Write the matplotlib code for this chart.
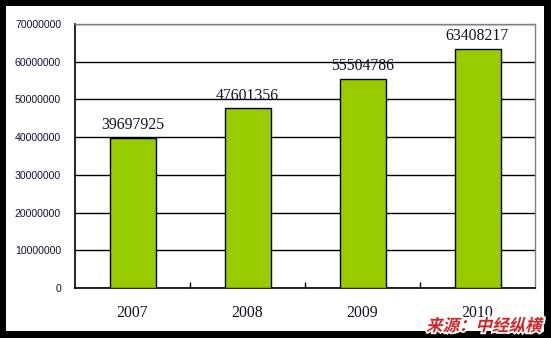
import numpy as np
import matplotlib
matplotlib.use("Agg")
import matplotlib.pyplot as plt
from matplotlib.patches import Rectangle, PathPatch
from matplotlib.textpath import TextPath
from matplotlib.font_manager import FontProperties
from matplotlib.transforms import Affine2D, IdentityTransform

years = ["2007", "2008", "2009", "2010"]
values = [39697925, 47601356, 55504786, 63408217]
yticks = [0, 10000000, 20000000, 30000000, 40000000, 50000000, 60000000, 70000000]
source = "来源：中经纵横"

W, H = 551, 338
fig = plt.figure(figsize=(W / 100, H / 100), dpi=100, facecolor="black")

# white page inside the black frame
fig.patches.append(Rectangle((6 / W, 7 / H), (544 - 6) / W, (331 - 6) / H,
                             transform=fig.transFigure, facecolor="white",
                             edgecolor="none", zorder=-1))

ax = fig.add_axes([75 / W, 1 - 288 / H, (535 - 75) / W, (288 - 24) / H])
ax.set_facecolor("white")

x = np.arange(len(years))
ax.bar(x, values, width=0.40, color="#99CC00", edgecolor="black", linewidth=1, zorder=3)

for xi, v in zip(x, values):
    ax.text(xi, v + 1300000, str(v), ha="center", va="bottom",
            family="Liberation Serif", fontsize=11.3, color="#10102a", zorder=2)

ax.set_xlim(-0.5, 3.5)
ax.set_ylim(0, 70000000)
ax.set_yticks(yticks)
ax.set_yticklabels([str(t) for t in yticks], family="Liberation Sans", fontsize=7.6, color="#10103a")
ax.yaxis.grid(True, color="black", linewidth=1, zorder=1)
ax.set_axisbelow(True)
ax.tick_params(axis="y", length=0, pad=10)

ax.set_xticks(x)
ax.set_xticklabels(years, family="Liberation Serif", fontsize=11.3, color="#10102a")
ax.tick_params(axis="x", length=0, pad=12)
ax.set_xticks([0.5, 1.5, 2.5], minor=True)
ax.tick_params(axis="x", which="minor", direction="in", length=4, width=1, color="black")

for s in ["left", "bottom"]:
    ax.spines[s].set_color("black")
    ax.spines[s].set_linewidth(1.2)
for s in ["top", "right"]:
    ax.spines[s].set_color("#808080")
    ax.spines[s].set_linewidth(1)

# source watermark, slanted bold red with white outline
tp = TextPath((0, 0), source, size=16.5,
              prop=FontProperties(family="Noto Sans CJK SC", weight="bold"))
tr = Affine2D().skew_deg(14, 0).translate(426, 7) + IdentityTransform()
fig.patches.append(PathPatch(tp, transform=tr, facecolor="white", edgecolor="white",
                             linewidth=2.5, zorder=5))
fig.patches.append(PathPatch(tp, transform=tr, facecolor="#d02828", edgecolor="none",
                             zorder=6))

fig.savefig("out.png", dpi=100, facecolor="black")
